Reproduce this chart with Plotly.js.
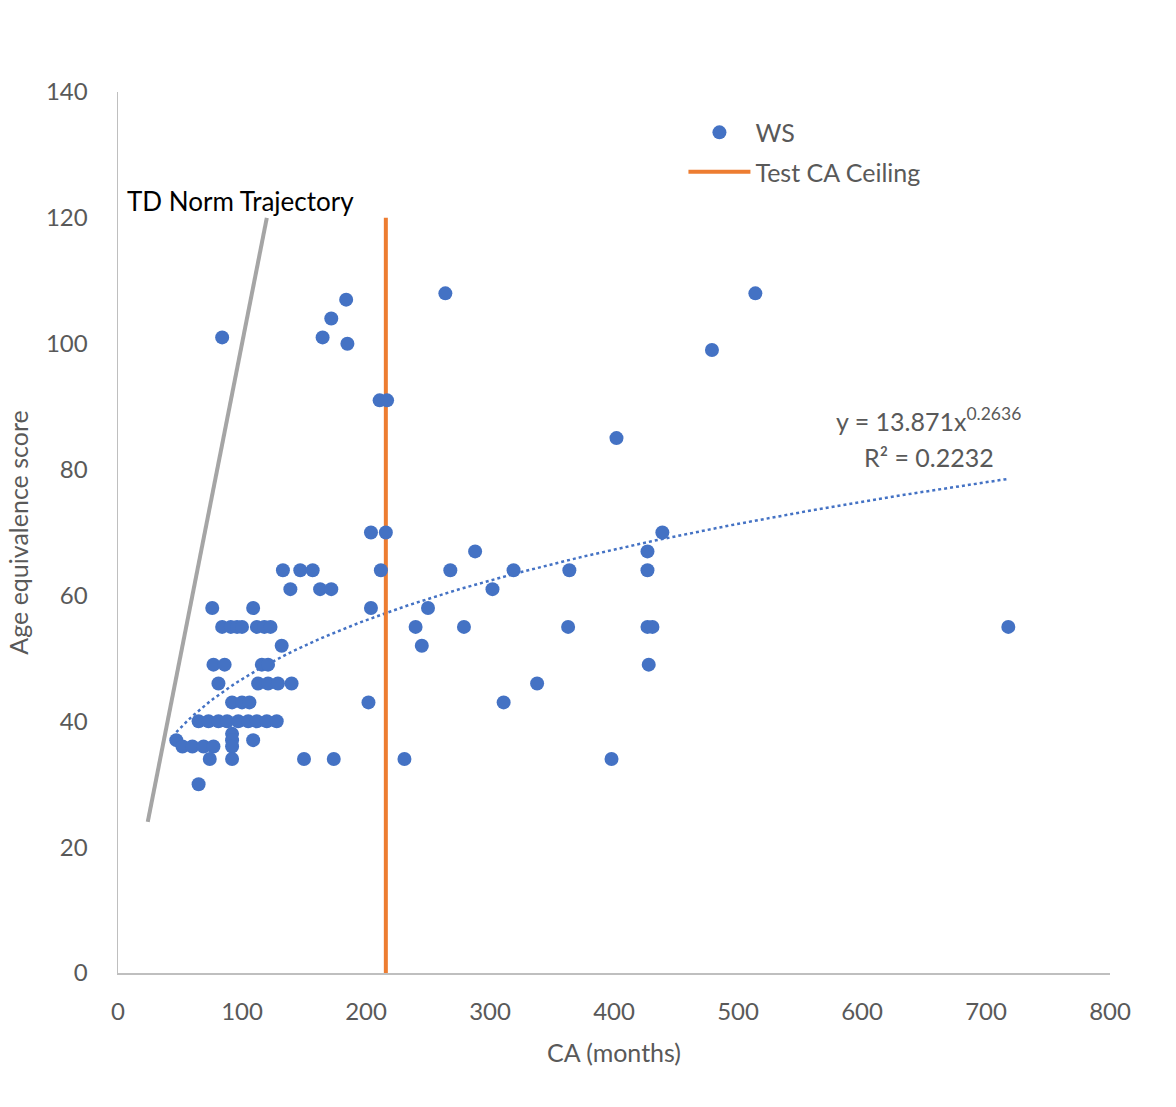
<!DOCTYPE html>
<html>
<head>
<meta charset="utf-8">
<script src="https://cdn.plot.ly/plotly-3.0.1.min.js"></script>
<style>html,body{margin:0;padding:0;background:#fff;}#chart{width:1176px;height:1107px;}</style>
</head>
<body>
<div id="chart"></div>
<script>
// WS data: chronological age (months) vs age equivalence score
const wsCA = [
  264, 514,
  184,
  172,
  84, 165,
  185,
  479,
  211, 217,
  402,
  204, 216, 439,
  288, 427,
  133, 147, 157, 212, 268, 319, 364, 427,
  139, 163, 172, 302,
  76, 109, 204, 250,
  84, 91, 96, 100, 112, 118, 123, 240, 279, 363, 427, 431, 718,
  132, 245,
  77, 86, 116, 121, 428,
  81, 113, 121, 129, 140, 338,
  92, 100, 106, 202, 311,
  65, 73, 81, 88, 97, 105, 112, 120, 128,
  92,
  47, 92, 109,
  52, 60, 69, 77, 92,
  74, 92, 150, 174, 231, 398,
  65
];
const wsAE = [
  108, 108,
  107,
  104,
  101, 101,
  100,
  99,
  91, 91,
  85,
  70, 70, 70,
  67, 67,
  64, 64, 64, 64, 64, 64, 64, 64,
  61, 61, 61, 61,
  58, 58, 58, 58,
  55, 55, 55, 55, 55, 55, 55, 55, 55, 55, 55, 55, 55,
  52, 52,
  49, 49, 49, 49, 49,
  46, 46, 46, 46, 46, 46,
  43, 43, 43, 43, 43,
  40, 40, 40, 40, 40, 40, 40, 40, 40,
  38,
  37, 37, 37,
  36, 36, 36, 36, 36,
  34, 34, 34, 34, 34, 34,
  30
];
// Test CA ceiling line
const ceilingX = [216, 216];
const ceilingY = [0, 120];
// TD norm trajectory (AE = CA)
const tdX = [24, 120];
const tdY = [24, 120];
// Power trendline coefficients as printed on chart
const trendA = 13.871;
const trendB = 0.2636;
const trendR2 = 0.2232;

const xMin = Math.min(...wsCA), xMax = Math.max(...wsCA);
const trendX = [], trendY = [];
for (let i = 0; i <= 200; i++) {
  const x = xMin + (xMax - xMin) * i / 200;
  trendX.push(x);
  trendY.push(trendA * Math.pow(x, trendB));
}

const FONT = 'Lato, "Open Sans", sans-serif';
const GRAY = '#595959';

const traces = [
  {x: tdX, y: tdY, type: 'scatter', mode: 'lines', showlegend: false,
   line: {color: '#A5A5A5', width: 4}, hoverinfo: 'skip'},
  {x: trendX, y: trendY, type: 'scatter', mode: 'lines', showlegend: false,
   line: {color: '#4472C4', width: 2.5, dash: 'dot'}, hoverinfo: 'skip'},
  {x: ceilingX, y: ceilingY, type: 'scatter', mode: 'lines', name: 'Test CA Ceiling',
   legendgroup: 'b', legendrank: 2, line: {color: '#ED7D31', width: 4}},
  {x: wsCA, y: wsAE, type: 'scatter', mode: 'markers', name: 'WS',
   legendgroup: 'a', legendrank: 1, marker: {color: '#4472C4', size: 14}}
];

const layout = {
  width: 1176, height: 1107,
  margin: {l: 118, r: 66, t: 92, b: 134},
  paper_bgcolor: '#fff', plot_bgcolor: '#fff',
  font: {family: FONT, color: GRAY, size: 23},
  showlegend: true,
  legend: {
    x: 0.57, y: 0.98, xanchor: 'left', yanchor: 'top',
    traceorder: 'grouped', bgcolor: 'rgba(0,0,0,0)',
    font: {family: FONT, size: 25, color: GRAY},
    itemwidth: 62, tracegroupgap: 4
  },
  xaxis: {
    range: [0, 800], dtick: 100, tick0: 0,
    showgrid: false, zeroline: false,
    showline: true, linecolor: '#BFBFBF', linewidth: 1.5,
    ticks: '', ticklabelstandoff: 17,
    tickfont: {family: FONT, size: 24, color: GRAY},
    title: {text: 'CA (months)', font: {family: FONT, size: 25, color: GRAY}, standoff: 20}
  },
  yaxis: {
    range: [0, 140], dtick: 20, tick0: 0,
    showgrid: false, zeroline: false,
    showline: true, linecolor: '#BFBFBF', linewidth: 1.5,
    ticks: '', ticklabelstandoff: 24,
    tickfont: {family: FONT, size: 24, color: GRAY},
    title: {text: 'Age equivalence score', font: {family: FONT, size: 25, color: GRAY}, standoff: 10}
  },
  annotations: [
    {x: 6, y: 122.7, xref: 'x', yref: 'y', xanchor: 'left', yanchor: 'middle',
     text: 'TD Norm Trajectory', showarrow: false,
     font: {family: FONT, size: 26, color: '#000'}},
    {x: 654, y: 88, xref: 'x', yref: 'y', xanchor: 'center', yanchor: 'middle',
     text: 'y = ' + trendA + 'x<sup>' + trendB + '</sup>', showarrow: false,
     font: {family: FONT, size: 25, color: GRAY}},
    {x: 654, y: 82, xref: 'x', yref: 'y', xanchor: 'center', yanchor: 'middle',
     text: 'R² = ' + trendR2, showarrow: false,
     font: {family: FONT, size: 25, color: GRAY}}
  ]
};

Plotly.newPlot('chart', traces, layout, {displayModeBar: false, staticPlot: true});
</script>
</body>
</html>
